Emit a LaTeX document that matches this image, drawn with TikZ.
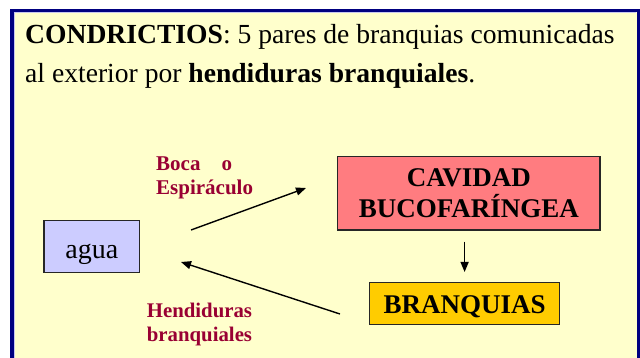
\documentclass[tikz,border=0pt]{standalone}
\usepackage{fontspec}
\setmainfont{Liberation Serif}
\usetikzlibrary{arrows.meta,calc}
\definecolor{panelfill}{HTML}{FFFFCC}
\definecolor{panelline}{HTML}{000080}
\definecolor{panelinner}{HTML}{C8C8F0}
\definecolor{labelred}{HTML}{990033}
\definecolor{aguafill}{HTML}{CCCCFF}
\definecolor{cavfill}{HTML}{FF7C80}
\definecolor{branfill}{HTML}{FFCC00}
\begin{document}
\begin{tikzpicture}[x=1pt,y=-1pt,
  box/.style={draw=black!85, line width=1.2pt, inner sep=0pt, align=center},
  maintext/.style={anchor=base west, inner sep=0pt, font=\fontsize{27.6}{38}\selectfont},
  lbl/.style={anchor=north west, text=labelred, inner sep=0pt, align=left},
  arr/.style={-{Triangle[length=10pt,width=8pt]}, line width=1.4pt}]
\useasboundingbox (0,0) rectangle (640,358);
\fill[white] (0,0) rectangle (640,358);
\draw[panelline, fill=panelfill, line width=3.5pt] (11.75,10.75) rectangle (638.5,380);
\draw[panelinner, line width=0.8pt] (13.9,12.9) -- (13.9,380);
\draw[panelinner, line width=0.8pt] (13.9,12.9) -- (636.4,12.9);
\node[maintext] (t1) at (25,44) {\textbf{CONDRICTIOS}: 5 pares de branquias comunicadas};
\node[maintext] (t2) at (25,83) {al exterior por \textbf{hendiduras branquiales}.};
\node[box, fill=aguafill, anchor=north west, minimum width=95.7pt, text height=37.7pt, text depth=14.3pt,
  font=\fontsize{28}{32}\selectfont] (agua) at (43.3,220) {agua};
\node[box, fill=cavfill, minimum width=262.3pt, minimum height=73.3pt,
  font=\fontsize{27}{30.7}\selectfont\bfseries] (cav) at (468.9,193.4) {CAVIDAD\\BUCOFAR\'INGEA};
\node[box, fill=branfill, anchor=north west, minimum width=190pt, text height=31.3pt, text depth=10.7pt,
  font=\fontsize{27}{31}\selectfont\bfseries] (bran) at (369,282) {BRANQUIAS};
\node[lbl, font=\fontsize{21}{24.3}\selectfont\bfseries] (boca) at (156,156.1) {Boca\hspace{21pt}o\\Espir\'aculo};
\node[lbl, font=\fontsize{20.8}{24}\selectfont\bfseries] (hend) at (146.7,303.3) {Hendiduras\\branquiales};
\coordinate (a1s) at (191,230);
\coordinate (a1e) at (306,188);
\coordinate (a2s) at (340,314);
\coordinate (a2e) at (181,262);
\draw[arr] (a1s) -- (a1e);
\draw[arr] (a2s) -- (a2e);
\draw[arr, shorten <=11pt, shorten >=10pt] (bran.north |- cav.south) -- (bran.north);
\end{tikzpicture}
\end{document}
